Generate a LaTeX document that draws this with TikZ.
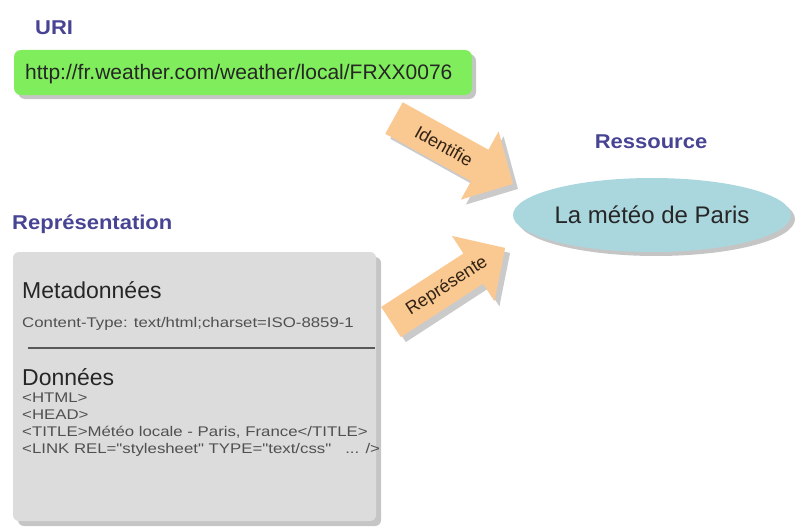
\documentclass[tikz,border=0pt]{standalone}
\usepackage{fontspec}
\setmainfont{Liberation Sans}
\newfontfamily\widefont[FakeStretch=1.2]{Liberation Sans}
\newfontfamily\titlefont[FakeStretch=1.1]{Liberation Sans Bold}
\usetikzlibrary{shapes.geometric,shadows}
\definecolor{titleblue}{RGB}{72,68,148}
\definecolor{urlgreen}{RGB}{128,238,92}
\definecolor{arroworange}{RGB}{250,200,145}
\definecolor{ellblue}{RGB}{170,214,222}
\definecolor{boxgray}{RGB}{220,220,220}
\definecolor{shadowgray}{RGB}{150,150,150}
\definecolor{smalltext}{RGB}{80,80,80}
\definecolor{arrowink}{RGB}{50,35,20}
\begin{document}
\begin{tikzpicture}[x=1pt,y=-1pt,
  title/.style={font=\titlefont\fontsize{20}{24}\selectfont, text=titleblue, inner sep=0},
  bigtext/.style={font=\fontsize{23}{27}\selectfont, text=black!85, inner sep=0, anchor=base west},
  small/.style={font=\widefont\fontsize{14}{16}\selectfont, text=smalltext, inner sep=0, anchor=base west},
  arrowtext/.style={font=\fontsize{18}{21}\selectfont, text=arrowink, inner sep=0},
  myshadow/.style={drop shadow={shadow xshift=#1, shadow yshift=-#1, opacity=0.55, fill=shadowgray}},
  blockarrow/.pic={\path[pic actions] (0,-18) -- (98,-18) -- (98,-39) -- (136,0) -- (98,39) -- (98,18) -- (0,18) -- cycle;}
]
\useasboundingbox (0,0) rectangle (795,527);

% URI
\node[title, anchor=base west] (urilabel) at (35,35) {URI};
\node[rectangle, rounded corners=7, minimum width=458, minimum height=45, fill=urlgreen, myshadow=4pt] (urlbox) at (243,72.5) {};
\node[font=\fontsize{21}{24}\selectfont, inner sep=0, anchor=base west, text=black!85] (url) at (25,79.5) {http://fr.weather.com/weather/local/FRXX0076};

% Ressource
\node[title, anchor=base] (reslabel) at (651,148) {Ressource};
\node[ellipse, minimum width=278, minimum height=74, fill=ellblue, myshadow=4pt] (res) at (652,215) {};
\node[font=\fontsize{24}{28}\selectfont, inner sep=0, anchor=base, text=black!85] (restext) at (652,223.5) {La météo de Paris};

% Representation
\node[title, anchor=base west] (replabel) at (12,229.5) {Représentation};
\node[rectangle, rounded corners=6, minimum width=363, minimum height=269, fill=boxgray, myshadow=5pt] (repbox) at (194.5,386.5) {};
\node[bigtext] (meta) at (22,298) {Metadonnées};
\node[small] (ctype) at (22,327) {Content-Type: text/html;charset=ISO-8859-1};
\coordinate (sepL) at (28,348);
\coordinate (sepR) at (375,348);
\draw[line width=1.2pt, black!65] (sepL) -- (sepR);
\node[bigtext] (donnees) at (22,385) {Données};
\node[small] (l1) at (22,402) {<HTML>};
\node[small] (l2) at (22,419) {<HEAD>};
\node[small] (l3) at (22,436) {<TITLE>Météo locale - Paris, France</TITLE>};
\node[small] (l4) at (22,453) {<LINK REL="stylesheet" TYPE="text/css" \ \ ... />};

% block arrows
\pic[fill=shadowgray, opacity=0.5, rotate=-29] at (399,123) {blockarrow};
\pic[fill=arroworange, rotate=-29] at (394,118) {blockarrow};
\node[arrowtext, rotate=-29] (identifie) at (444,146) {Identifie};

\pic[fill=shadowgray, opacity=0.5, rotate=33] at (396,327) {blockarrow};
\pic[fill=arroworange, rotate=33] at (391,322) {blockarrow};
\node[arrowtext, rotate=33] (represente) at (447,286) {Représente};
\end{tikzpicture}
\end{document}
